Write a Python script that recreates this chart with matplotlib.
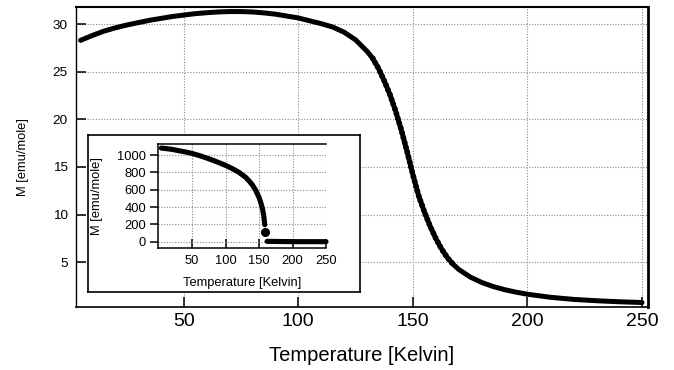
import matplotlib
matplotlib.use("Agg")
import matplotlib.pyplot as plt

plt.rcParams['font.family'] = ['Liberation Sans', 'DejaVu Sans']

# ---- main curve data (Temperature [K], M [emu/mole]) ----
T_main = [5, 10, 15, 20, 25, 30, 35, 40, 45, 50, 55, 60, 65, 70, 75, 80, 85, 90,
          95, 100, 105, 110, 115, 120, 125, 130, 132.5, 135, 137.5, 140, 142.5,
          145, 147.5, 150, 152.5, 155, 157.5, 160, 162.5, 165, 167.5, 170, 175,
          180, 185, 190, 195, 200, 210, 220, 230, 240, 250]
M_main = [28.3, 28.8, 29.25, 29.6, 29.9, 30.15, 30.4, 30.6, 30.8, 30.95, 31.1,
          31.2, 31.28, 31.32, 31.32, 31.28, 31.18, 31.05, 30.85, 30.65, 30.35,
          30.05, 29.7, 29.15, 28.35, 27.15, 26.4, 25.35, 24.05, 22.6, 20.85,
          18.85, 16.6, 14.2, 12.0, 10.3, 8.8, 7.5, 6.4, 5.5, 4.8, 4.25, 3.45,
          2.88, 2.45, 2.12, 1.86, 1.64, 1.32, 1.1, 0.96, 0.85, 0.77]

# ---- inset data ----
T_in = [4, 10, 20, 30, 40, 50, 60, 70, 80, 90, 100, 110, 120, 130, 135, 140,
        145, 150, 152.5, 155, 157, 158, 158.5]
M_in = [1080, 1075, 1065, 1050, 1035, 1018, 995, 970, 942, 912, 880, 843, 800,
        742, 702, 655, 592, 510, 452, 385, 300, 230, 195]
T_in_dot = [158.8]
M_in_dot = [112]
T_in_tail = [162, 170, 180, 190, 200, 210, 220, 230, 240, 250]
M_in_tail = [4, 3, 2, 1, 1, 0, 0, 0, 0, 0]

main_xticks = [50, 100, 150, 200, 250]
main_yticks = [5, 10, 15, 20, 25, 30]
in_xticks = [50, 100, 150, 200, 250]
in_yticks = [0, 200, 400, 600, 800, 1000]

W, H = 674, 370
fig = plt.figure(figsize=(W / 100, H / 100), dpi=100)

def fr(x0, y0, x1, y1):
    return [x0 / W, 1 - y1 / H, (x1 - x0) / W, (y1 - y0) / H]

ax = fig.add_axes(fr(76, 7, 648, 307))
ax.plot(T_main, M_main, color='black', lw=3.6, solid_capstyle='round',
        solid_joinstyle='round')
# beaded look of the dense data points in the steep part
i0, i1 = T_main.index(132.5), T_main.index(167.5) + 1
ax.plot(T_main[i0:i1], M_main[i0:i1], color='black', lw=4.2,
        linestyle=(0, (0.01, 0.85)), dash_capstyle='round')
ax.set_xlim(3, 252.6)
ax.set_ylim(0.3, 31.8)
ax.set_xticks(main_xticks)
ax.set_yticks(main_yticks)
ax.grid(True, color='#8a8a8a', linestyle=(0, (1, 1.5)), linewidth=0.8)
ax.tick_params(axis='both', direction='in', length=7.5, width=1.1, color='black')
ax.tick_params(axis='x', labelsize=14, pad=4)
ax.tick_params(axis='y', labelsize=9.7, pad=6)
for s, lw in (('top', 1.5), ('right', 2.0), ('left', 1.0), ('bottom', 1.2)):
    ax.spines[s].set_linewidth(lw)
ax.set_xlabel('Temperature [Kelvin]', fontsize=14.5, labelpad=12)
ax.set_ylabel('M [emu/mole]', fontsize=9.3, labelpad=17)

# inset background box
box = fig.add_axes(fr(88, 135, 360, 292))
box.set_xticks([])
box.set_yticks([])
box.set_facecolor('white')
for s in box.spines.values():
    s.set_linewidth(1.2)

ins = fig.add_axes(fr(158, 144, 326, 248))
ins.plot(T_in, M_in, color='black', lw=3.7, solid_capstyle='round',
         solid_joinstyle='round', clip_on=False)
ins.plot(T_in_dot, M_in_dot, 'o', color='black', ms=5.5, clip_on=False)
ins.plot(T_in_tail, M_in_tail, color='black', lw=3.7, solid_capstyle='round',
         clip_on=False)
ins.set_xlim(-1, 250)
ins.set_ylim(-73, 1127)
ins.set_xticks(in_xticks)
ins.set_yticks(in_yticks)
ins.grid(True, color='#8a8a8a', linestyle=(0, (1, 1.5)), linewidth=0.8)
ins.spines['right'].set_visible(False)
for s in ('top', 'left', 'bottom'):
    ins.spines[s].set_linewidth(1.1)
ins.tick_params(axis='x', direction='in', length=6.5, width=1.1, labelsize=9.3, pad=5)
ins.tick_params(axis='y', direction='out', length=6, width=1.1, labelsize=9.3, pad=2.5)
ins.set_xlabel('Temperature [Kelvin]', fontsize=9.3, labelpad=7)
ins.set_ylabel('M [emu/mole]', fontsize=9.3, labelpad=10)

fig.savefig('out.png', dpi=100)
